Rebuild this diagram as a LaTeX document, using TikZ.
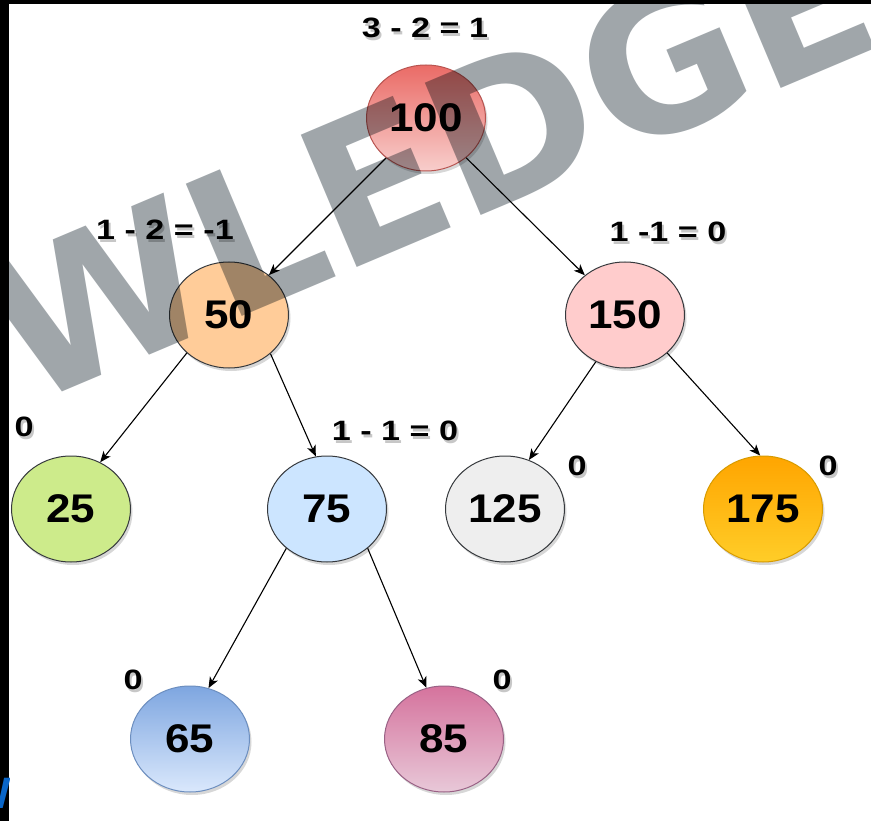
\documentclass[tikz,border=0pt]{standalone}
\usepackage{fontspec}
\setmainfont{Liberation Sans}
\newfontfamily\numfont{Liberation Sans}[FakeStretch=1.1]
\newfontfamily\lblfont{Liberation Sans}[FakeStretch=1.22]
\newfontfamily\wmfont{DejaVu Sans}
\usetikzlibrary{shapes.geometric,arrows.meta,shadows}
\definecolor{redtop}{HTML}{EA6B66}
\definecolor{redbot}{HTML}{F8CECC}
\definecolor{redline}{HTML}{B85450}
\definecolor{darkline}{HTML}{36393D}
\definecolor{orangefill}{HTML}{FFCC99}
\definecolor{pinkfill}{HTML}{FFCCCC}
\definecolor{greenfill}{HTML}{CDEB8B}
\definecolor{lightblue}{HTML}{CCE5FF}
\definecolor{grayfill}{HTML}{EEEEEE}
\definecolor{ambertop}{HTML}{FFA500}
\definecolor{amberbot}{HTML}{FFCD28}
\definecolor{amberline}{HTML}{D79B00}
\definecolor{bluetop}{HTML}{7EA6E0}
\definecolor{bluebot}{HTML}{DAE8FC}
\definecolor{blueline}{HTML}{6C8EBF}
\definecolor{mauvetop}{HTML}{D5739D}
\definecolor{mauvebot}{HTML}{E8C8D8}
\definecolor{mauveline}{HTML}{996185}
\definecolor{wmgray}{HTML}{A0A6AA}
\definecolor{wblue}{HTML}{0A66C8}
\begin{document}
\begin{tikzpicture}[x=1pt,y=-1pt,
  nd/.style={ellipse, minimum width=119pt, minimum height=106pt, inner sep=0pt,
    line width=1pt, font=\numfont\bfseries\fontsize{40}{40}\selectfont,
    drop shadow={shadow xshift=2pt, shadow yshift=-3pt, opacity=0.22, fill=black!70}},
  lbl/.style={font=\lblfont\bfseries\fontsize{28}{28}\selectfont, inner sep=0pt},
  lblsh/.style={lbl, text=black, opacity=0.22},
  arr/.style={-{Stealth[length=11pt,width=9pt,inset=3pt]}, line width=1.1pt}
]
\useasboundingbox (0,0) rectangle (871,821);
\clip (0,0) rectangle (871,821);
\fill[white] (0,0) rectangle (871,821);

% nodes
\node[nd, draw=redline, top color=redtop, bottom color=redbot] (n100) at (426,118) {100};
\node[nd, draw=darkline, fill=orangefill] (n50) at (229,315) {50};
\node[nd, draw=darkline, fill=pinkfill] (n150) at (625,315) {150};
\node[nd, draw=darkline, fill=greenfill] (n25) at (71,509) {25};
\node[nd, draw=darkline, fill=lightblue] (n75) at (327,509) {75};
\node[nd, draw=darkline, fill=grayfill] (n125) at (505,509) {125};
\node[nd, draw=amberline, top color=ambertop, bottom color=amberbot] (n175) at (763,509) {175};
\node[nd, draw=blueline, top color=bluetop, bottom color=bluebot] (n65) at (190,739) {65};
\node[nd, draw=mauveline, top color=mauvetop, bottom color=mauvebot] (n85) at (444,739) {85};

% connectors
\draw[arr] (n100) -- (n50);
\draw[arr] (n100) -- (n150);
\draw[arr] (n50.222) -- (n25.58);
\draw[arr] (n50.317) -- (n75.102);
\draw[arr] (n150.238) -- (n125.64);
\draw[arr] (n150.318) -- (n175.93);
\draw[arr] (n75.224) -- (n65.70);
\draw[arr] (n75.316) -- (n85.109);

% balance labels
\foreach \px/\py/\t/\nm in {425/28/3 - 2 = 1/la, 165/230/1 - 2 = -1/lb, 668/232/1 -1 = 0/lc,
    24/427/0/ld, 395/431/1 - 1 = 0/le, 577/466/0/lf, 828/466/0/lg, 133/680/0/lh, 502/680/0/li}{
  \node[lblsh] (\nm s) at (\px+2,\py+3) {\t};
  \node[lbl] (\nm) at (\px,\py) {\t};
}

% watermark
\begin{scope}[blend mode=multiply]
\node[rotate=22.9, anchor=base west, inner sep=0pt, text=wmgray,
  font=\wmfont\bfseries\fontsize{197}{197}\selectfont] (wm) at (25,408) {WLEDGE};
\end{scope}

% frame strips
\fill[black] (0,0) rectangle (871,4.5);
\fill[black] (0,0) rectangle (9,821);
\begin{scope}
\clip (0,775) rectangle (9,812);
\node[anchor=base east, inner sep=0pt, text=wblue,
  font=\bfseries\fontsize{44}{44}\selectfont] (wfrag) at (11,808) {W};
\end{scope}
\end{tikzpicture}
\end{document}
